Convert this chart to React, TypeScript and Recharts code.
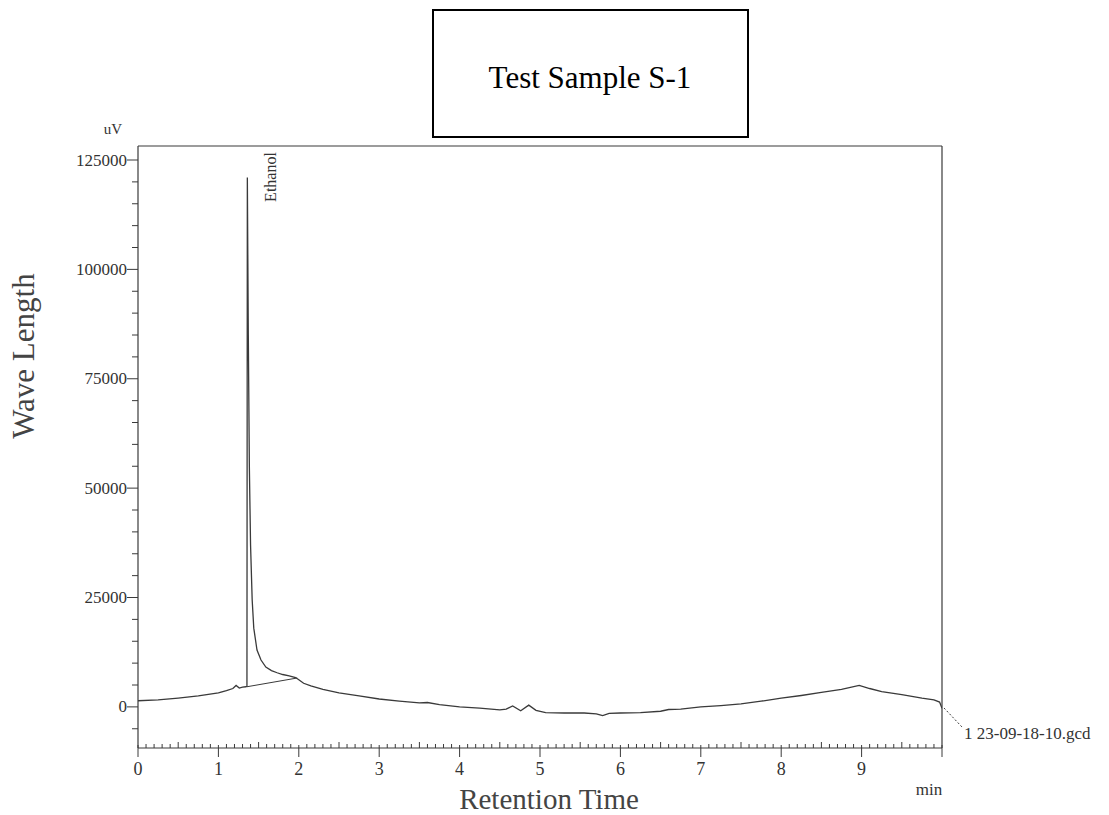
import React from 'react';
import { LineChart, Line, XAxis, YAxis, ReferenceLine } from 'recharts';

// retention time (min) and detector signal (uV)
const retentionTimes = [
  0.0, 0.25, 0.5, 0.75, 1.0, 1.1, 1.18, 1.22, 1.26, 1.3, 1.34, 1.355,
  1.36, 1.372, 1.385, 1.4, 1.42, 1.44, 1.48, 1.53, 1.59, 1.66, 1.73, 1.8,
  1.88, 1.96, 2.0, 2.06, 2.15, 2.3, 2.5, 2.75, 3.0, 3.25, 3.5, 3.6, 3.75,
  4.0, 4.25, 4.5, 4.58, 4.66, 4.76, 4.86, 4.95, 5.07, 5.3, 5.55, 5.7, 5.78,
  5.86, 6.0, 6.25, 6.5, 6.6, 6.75, 7.0, 7.25, 7.5, 7.75, 8.0, 8.25, 8.5,
  8.75, 8.97, 9.1, 9.25, 9.5, 9.75, 9.9, 9.97, 10.0,
];
const signalValues = [
  1400, 1600, 2000, 2500, 3200, 3700, 4200, 4900, 4300, 4500, 4600, 4700,
  121000, 85000, 55000, 37000, 24500, 18000, 13000, 10700, 9100, 8300, 7800, 7400,
  7100, 6700, 6200, 5400, 4800, 4000, 3200, 2500, 1800, 1300, 900, 1000, 500,
  0, -300, -700, -500, 200, -900, 400, -800, -1300, -1400, -1400, -1600, -2000,
  -1500, -1400, -1300, -1000, -600, -500, 0, 300, 700, 1300, 2000, 2600, 3300,
  4000, 4900, 4200, 3500, 2800, 2000, 1600, 1100, -300,
];

// integration baseline drawn under the ethanol peak
const baselineTimes = [1.355, 1.98];
const baselineValues = [4600, 6600];

const yMajorTicks = [0, 25000, 50000, 75000, 100000, 125000];
const xLabels = [0, 1, 2, 3, 4, 5, 6, 7, 8, 9];
const yMin = -9400;
const yMax = 128200;

const signalData = retentionTimes.map((t, i) => ({ t, v: signalValues[i] }));
const baselineData = baselineTimes.map((t, i) => ({ t, v: baselineValues[i] }));

const yTicks: number[] = [];
for (let v = -5000; v <= 125000; v += 5000) yTicks.push(v);
const xTicks: number[] = [];
for (let i = 0; i <= 100; i++) xTicks.push(i / 10);

const serif = '"Liberation Serif", "Times New Roman", serif';
const ink = '#3a3a3a';

const YTick = (props: any) => {
  const { x, y, payload } = props;
  const v = payload.value;
  const major = yMajorTicks.includes(v);
  return (
    <g>
      <line x1={x} x2={x - (major ? 11 : 6)} y1={y} y2={y} stroke={ink} strokeWidth={1} />
      {major && (
        <text x={x - 11} y={y} textAnchor="end" dominantBaseline="central" fontSize={17} fontFamily={serif} fill="#333">
          {v}
        </text>
      )}
    </g>
  );
};

const XTick = (props: any) => {
  const { x, y, payload } = props;
  const tenth = Math.round(payload.value * 10);
  const major = tenth % 10 === 0;
  const half = tenth % 5 === 0;
  const label = tenth / 10;
  if (major) {
    return (
      <g>
        <line x1={x} x2={x} y1={y - 3} y2={y + 9} stroke={ink} strokeWidth={1} />
        {xLabels.includes(label) && (
          <text x={x} y={y + 21} textAnchor="middle" dominantBaseline="central" fontSize={18} fontFamily={serif} fill="#333">
            {label}
          </text>
        )}
      </g>
    );
  }
  return <line x1={x} x2={x} y1={y - (half ? 6 : 4)} y2={y} stroke={ink} strokeWidth={1} />;
};

export default function App() {
  return (
    <div style={{ position: 'absolute', left: 0, top: 0, width: 1109, height: 815, background: '#fff' }}>
      <LineChart width={1109} height={815} margin={{ top: 146, right: 167, bottom: 27, left: 78 }}>
        <XAxis
          dataKey="t"
          type="number"
          domain={[0, 10]}
          allowDataOverflow
          ticks={xTicks}
          interval={0}
          tick={<XTick />}
          tickLine={false}
          tickSize={0}
          tickMargin={0}
          height={40}
          axisLine={{ stroke: ink, strokeWidth: 1.2 }}
        />
        <YAxis
          dataKey="v"
          type="number"
          domain={[yMin, yMax]}
          allowDataOverflow
          ticks={yTicks}
          interval={0}
          tick={<YTick />}
          tickLine={false}
          tickSize={0}
          tickMargin={0}
          width={60}
          axisLine={{ stroke: ink, strokeWidth: 1.2 }}
        />
        <ReferenceLine y={yMax} stroke={ink} strokeWidth={1.2} />
        <ReferenceLine x={10} stroke={ink} strokeWidth={1.2} />
        <Line data={baselineData} dataKey="v" type="linear" stroke={ink} strokeWidth={1} dot={false} isAnimationActive={false} />
        <Line data={signalData} dataKey="v" type="linear" stroke={ink} strokeWidth={1.3} dot={false} isAnimationActive={false} />
      </LineChart>
      <svg width={1109} height={815} style={{ position: 'absolute', left: 0, top: 0, pointerEvents: 'none' }}>
        <rect x={433} y={10} width={315} height={127} fill="none" stroke="#000" strokeWidth={2} />
        <text x={590} y={88} textAnchor="middle" fontSize={31} fontFamily={serif} fill="#000">
          Test Sample S-1
        </text>
        <text x={113} y={134} textAnchor="middle" fontSize={15} fontFamily={serif} fill="#333">
          uV
        </text>
        <text
          x={270}
          y={177}
          transform="rotate(-90 270 177)"
          textAnchor="middle"
          dominantBaseline="central"
          fontSize={16}
          fontFamily={serif}
          fill="#333"
        >
          Ethanol
        </text>
        <text x={929} y={795} textAnchor="middle" fontSize={17} fontFamily={serif} fill="#333">
          min
        </text>
        <text x={549} y={809} textAnchor="middle" fontSize={29} fontFamily={serif} fill="#444">
          Retention Time
        </text>
        <text
          x={23}
          y={356}
          transform="rotate(-90 23 356)"
          textAnchor="middle"
          dominantBaseline="central"
          fontSize={31}
          fontFamily={serif}
          fill="#444"
        >
          Wave Length
        </text>
        <line x1={944} y1={708} x2={962} y2={727} stroke={ink} strokeWidth={1} strokeDasharray="2 2" />
        <text x={964} y={739} fontSize={17} fontFamily={serif} fill="#333">
          1 23-09-18-10.gcd
        </text>
      </svg>
    </div>
  );
}
